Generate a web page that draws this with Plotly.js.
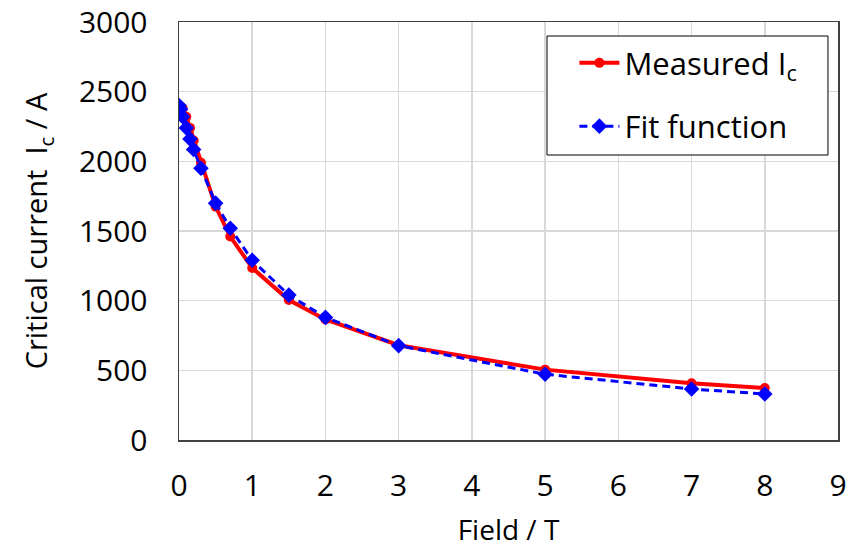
<!DOCTYPE html>
<html>
<head>
<meta charset="utf-8">
<script src="https://cdn.plot.ly/plotly-3.0.1.min.js"></script>
<style>html,body{margin:0;padding:0;background:#fff;}#chart{width:851px;height:553px;}</style>
</head>
<body>
<div id="chart"></div>
<script>
var measuredField = [0, 0.02, 0.05, 0.1, 0.15, 0.2, 0.3, 0.5, 0.7, 1, 1.5, 2, 3, 5, 7, 8];
var measuredIc    = [2400, 2395, 2380, 2320, 2240, 2150, 1990, 1675, 1460, 1235, 1005, 865, 680, 505, 407, 373];
var fitField      = [0, 0.02, 0.05, 0.1, 0.15, 0.2, 0.3, 0.5, 0.7, 1, 1.5, 2, 3, 5, 7, 8];
var fitIc         = [2400, 2375, 2320, 2240, 2160, 2085, 1950, 1700, 1520, 1290, 1040, 880, 677, 472, 366, 330];
var xTicks = [0, 1, 2, 3, 4, 5, 6, 7, 8, 9];
var yTicks = [0, 500, 1000, 1500, 2000, 2500, 3000];

var font = "Open Sans, Noto Sans, sans-serif";

var traces = [
  {
    x: measuredField, y: measuredIc, type: 'scatter', mode: 'lines+markers',
    name: 'Measured I<sub>c</sub>', legendgroup: 'a',
    line: {color: '#ff0000', width: 4},
    marker: {color: '#ff0000', symbol: 'circle', size: 10}
  },
  {
    x: fitField, y: fitIc, type: 'scatter', mode: 'lines+markers',
    name: 'Fit function', legendgroup: 'b',
    line: {color: '#0000ff', width: 3, dash: '8px,5px'},
    marker: {color: '#0000ff', symbol: 'diamond', size: 12}
  }
];

var layout = {
  width: 851, height: 553,
  margin: {l: 179, r: 13, t: 22, b: 113},
  paper_bgcolor: '#ffffff', plot_bgcolor: '#ffffff',
  font: {family: font, size: 30, color: '#000000'},
  showlegend: true,
  legend: {
    x: 0.600, y: 0.966, xanchor: 'left', yanchor: 'top',
    borderwidth: 0, bgcolor: 'rgba(0,0,0,0)',
    font: {family: font, size: 31, color: '#000000'},
    traceorder: 'grouped', tracegroupgap: 20, itemwidth: 40
  },
  shapes: [
    {type: 'rect', xref: 'paper', yref: 'paper',
     x0: 0.5584, x1: 0.9848, y0: 0.6818, y1: 0.9665,
     line: {color: '#000000', width: 1}, fillcolor: '#ffffff', layer: 'above'}
  ],
  xaxis: {
    range: [0, 9], tickvals: xTicks, ticktext: xTicks.map(String),
    showgrid: true, gridcolor: '#d9d9d9', gridwidth: 1.5,
    showline: true, linecolor: '#404040', linewidth: 1.5, mirror: true,
    ticks: '', zeroline: false, ticklabelstandoff: 18,
    automargin: 'bottom',
    tickfont: {family: font, size: 30, color: '#000000'},
    title: {text: 'Field / T', standoff: 17, font: {family: font, size: 28, color: '#000000'}}
  },
  yaxis: {
    range: [0, 3000], tickvals: yTicks, ticktext: yTicks.map(String),
    showgrid: true, gridcolor: '#d9d9d9', gridwidth: 1.5,
    showline: true, linecolor: '#404040', linewidth: 1.5, mirror: true,
    ticks: '', zeroline: false, ticklabelstandoff: 24,
    automargin: 'left',
    tickfont: {family: font, size: 30, color: '#000000'},
    title: {text: 'Critical current  I<sub>c</sub> / A', standoff: 22, font: {family: font, size: 29, color: '#000000'}}
  }
};

Plotly.newPlot('chart', traces, layout, {displayModeBar: false, staticPlot: true});
</script>
</body>
</html>
